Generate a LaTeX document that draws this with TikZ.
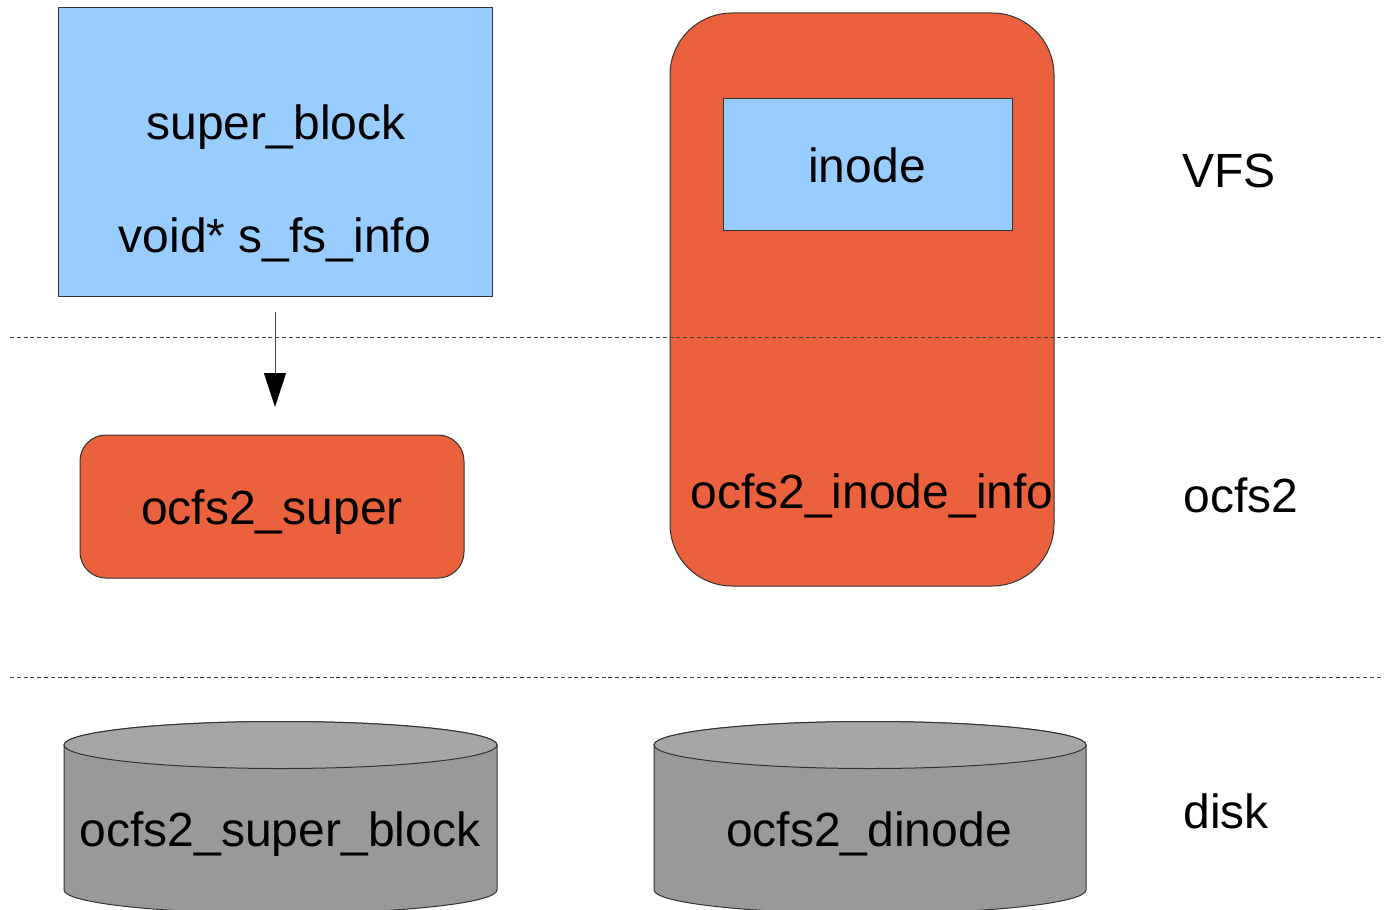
\documentclass[tikz,border=0pt]{standalone}
\usepackage{fontspec}
\setmainfont{Liberation Sans}
\usetikzlibrary{arrows.meta}
\definecolor{lblue}{HTML}{99CCFF}
\definecolor{ored}{HTML}{EB613D}
\definecolor{cylbody}{HTML}{999999}
\definecolor{cyltop}{HTML}{A6A6A6}
\definecolor{edge}{HTML}{333333}
\begin{document}
\begin{tikzpicture}[x=0.5pt,y=-0.5pt,
  box/.style={draw=edge, line width=0.5pt, inner sep=0pt, outer sep=0pt, anchor=north west},
  bluebox/.style={box, fill=lblue},
  redbox/.style={box, fill=ored},
  lbl/.style={font=\fontsize{24}{28}\selectfont, anchor=base, inner sep=0pt},
  side/.style={font=\fontsize{24}{28}\selectfont, anchor=base west, inner sep=0pt},
  divider/.style={draw=black!75, line width=0.5pt, dash pattern=on 2pt off 1.4pt},
  cyl/.style={draw=edge, line width=0.5pt},
  arr/.style={draw=black!70, line width=0.5pt, -{Triangle[width=11pt,length=17pt,color=black]}}
]
\clip (0,0) rectangle (1384,909);
\fill[white] (0,0) rectangle (1384,909);

% VFS layer
\node[bluebox, minimum width=217pt, minimum height=144pt] (sb) at (58,8) {};
\node[lbl] (sbt) at (276,140) {super\_block};
\node[lbl] (sfs) at (275,252) {void* s\_fs\_info};

\node[redbox, rounded corners=31pt, minimum width=192pt, minimum height=286.5pt] (oii) at (670,13) {};
\node[bluebox, minimum width=144.5pt, minimum height=65.5pt] (ino) at (723,99) {};
\node[lbl] (inot) at (867,183) {inode};
\node[lbl] (oiit) at (872,508) {ocfs2\_inode\_info};

% ocfs2 layer
\node[redbox, rounded corners=13pt, minimum width=192pt, minimum height=71.5pt] (os) at (80,435) {};
\node[lbl] (ost) at (272,524) {ocfs2\_super};

\draw[arr, shorten <=8pt, shorten >=14pt] (sb.south) -- (sb.south |- os.north);

% dividers
\draw[divider] (10,337) -- (1384,337);
\draw[divider] (10,677) -- (1384,677);

% disk layer cylinders
\filldraw[cyl, fill=cylbody] (64,745) -- (64,890)
  arc[start angle=180, end angle=360, x radius=108.25pt, y radius=11.75pt]
  -- (497,745)
  arc[start angle=0, end angle=180, x radius=108.25pt, y radius=11.75pt] -- cycle;
\filldraw[cyl, fill=cyltop] (280.5,745) ellipse [x radius=108.25pt, y radius=11.75pt];
\node[lbl] (osb) at (280,846) {ocfs2\_super\_block};

\filldraw[cyl, fill=cylbody] (654,745) -- (654,890)
  arc[start angle=180, end angle=360, x radius=108pt, y radius=11.75pt]
  -- (1086,745)
  arc[start angle=0, end angle=180, x radius=108pt, y radius=11.75pt] -- cycle;
\filldraw[cyl, fill=cyltop] (870,745) ellipse [x radius=108pt, y radius=11.75pt];
\node[lbl] (odi) at (869,846) {ocfs2\_dinode};

% layer labels
\node[side] (vfs) at (1182,188) {VFS};
\node[side] (ocf) at (1183,512) {ocfs2};
\node[side] (dsk) at (1183,828) {disk};
\end{tikzpicture}
\end{document}
